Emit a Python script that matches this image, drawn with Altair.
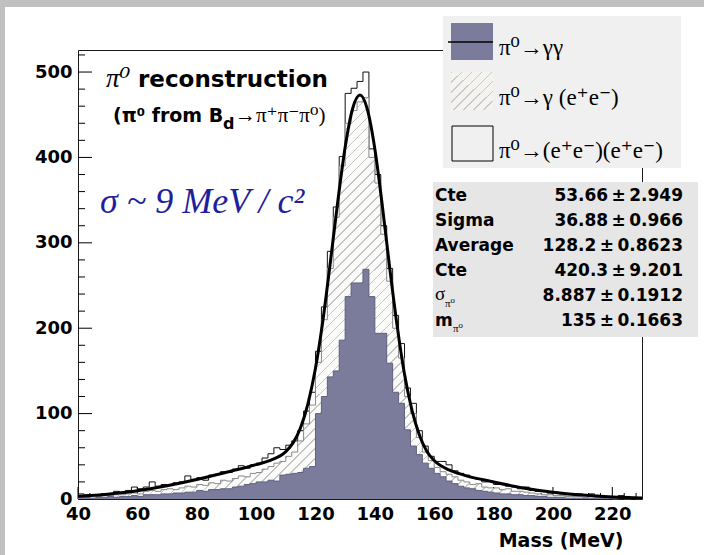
import altair as alt
import pandas as pd

# ---------------- data ----------------
BIN_W = 2
bin_starts = list(range(40, 230, BIN_W))  # 95 bins, 40..230 MeV

# stacked heights: total (outline), gamma gamma + gamma(e+e-) (hatched top), gamma gamma (blue)
total_top = [6, 5, 5, 4, 6, 5, 9, 7, 10, 14,
             12, 14, 20, 15, 17, 16, 19, 20, 27, 23,
             25, 22, 28, 29, 32, 31, 35, 39, 36, 40,
             42, 48, 53, 60, 58, 63, 68, 80, 103, 125,
             173, 225, 290, 342, 401, 475, 481, 489, 500, 410,
             380, 320, 270, 215, 182, 130, 112, 80, 62, 50,
             44, 44, 40, 33, 30, 28, 25, 23, 20, 21,
             17, 18, 15, 14, 12, 14, 10, 9, 10, 7,
             8, 6, 5, 5, 6, 4, 6, 3, 2, 3,
             2, 4, 3, 2, 1]
hatched_top = [4, 3, 4, 3, 4, 4, 5, 5, 6, 7,
               6, 9, 10, 9, 11, 12, 11, 13, 15, 14,
               17, 16, 19, 18, 22, 21, 24, 27, 26, 30,
               31, 35, 38, 42, 44, 50, 55, 68, 88, 110,
               160, 210, 270, 330, 390, 440, 455, 465, 470, 400,
               370, 310, 255, 200, 165, 120, 100, 72, 55, 45,
               37, 32, 29, 26, 22, 20, 17, 18, 14, 13,
               13, 11, 12, 9, 9, 8, 7, 6, 5, 5,
               4, 4, 3, 3, 3, 2, 3, 2, 1, 2,
               1, 2, 1, 1, 1]
gg_top = [2, 2, 1, 2, 2, 3, 2, 3, 3, 4,
          3, 5, 5, 5, 6, 6, 7, 7, 8, 8,
          10, 9, 11, 11, 12, 12, 14, 15, 17, 18,
          20, 20, 22, 21, 28, 29, 30, 31, 36, 38,
          100, 120, 143, 150, 186, 237, 253, 253, 269, 237,
          194, 194, 159, 125, 112, 81, 62, 52, 42, 36,
          30, 26, 21, 18, 15, 13, 12, 10, 9, 8,
          7, 6, 6, 5, 5, 4, 4, 3, 3, 2,
          2, 2, 1, 1, 1, 1, 1, 1, 1, 1,
          0, 1, 0, 1, 0]

# fitted curve
fit_mass = [40, 50, 60, 70, 80, 90, 100, 105, 110, 112.5, 115, 117.5, 120, 122.5, 125,
            127.5, 130, 132.5, 135, 137.5, 140, 142.5, 145, 147.5, 150, 152.5, 155,
            157.5, 160, 165, 170, 180, 190, 200, 210, 220, 230]
fit_count = [3.1, 5.7, 9.7, 15.5, 22.8, 31.4, 40.3, 45.4, 55.5, 66, 83.7, 112, 153, 209, 277,
             348, 412, 457, 473, 456, 410, 344, 271, 203, 146, 104, 75,
             56, 45, 34, 28, 20, 13, 8, 4.6, 2.4, 1.2]

x_tick_values = [40, 60, 80, 100, 120, 140, 160, 180, 200, 220]
y_tick_values = [0, 100, 200, 300, 400, 500]

legend_labels = ["π⁰→γγ", "π⁰→γ (e⁺e⁻)", "π⁰→(e⁺e⁻)(e⁺e⁻)"]
stat_names = ["Cte", "Sigma", "Average", "Cte", "σ", "m"]
stat_values = ["53.66\u2009±\u20092.949", "36.88\u2009±\u20090.966", "128.2\u2009±\u20090.8623",
               "420.3\u2009±\u20099.201", "8.887\u2009±\u20090.1912", "135\u2009±\u20090.1663"]

# ---------------- styling ----------------
W, H = 564, 449
SANS = "DejaVu Sans"
SERIF = "Liberation Serif, DejaVu Serif, serif"
BLUE = "#7b7b9c"

xsc = alt.Scale(domain=[40, 230], nice=False, zero=False)
ysc = alt.Scale(domain=[0, 525.8], nice=False, zero=False)

xaxis = alt.Axis(values=x_tick_values, ticks=False, tickSize=0, domain=False, grid=False,
                 labelFont=SANS, labelFontWeight="bold", labelFontSize=18, labelColor="black",
                 labelPadding=6, labelFlush=False, labelOverlap=False,
                 title="Mass (MeV)", titleFont=SANS, titleFontWeight="bold", titleFontSize=19,
                 titleColor="black", titleAnchor="end", titleAlign="right",
                 titleX=545, titleY=47, titleBaseline="alphabetic")
yaxis = alt.Axis(values=y_tick_values, ticks=False, tickSize=0, domain=False, grid=False,
                 labelFont=SANS, labelFontWeight="bold", labelFontSize=18, labelColor="black",
                 labelPadding=6, labelFlush=False, labelOverlap=False, title=None)


def hatch(n, ax, ay, line="#c4c4c4", bg="#fbfbfa", frac=0.16):
    stops = []
    for k in range(n):
        o0, o1, o2 = k / n, (k + frac) / n, (k + 1) / n
        stops += [alt.GradientStop(offset=o0, color=line), alt.GradientStop(offset=o1, color=line),
                  alt.GradientStop(offset=o1, color=bg), alt.GradientStop(offset=o2, color=bg)]
    return alt.LinearGradient(gradient="linear", stops=stops, x1=0, y1=0, x2=ax, y2=ay)


def step_df(counts):
    xs = bin_starts + [bin_starts[-1] + BIN_W]
    ys = counts + [counts[-1]]
    return pd.DataFrame({"mass": xs, "n": ys})


dummy = pd.DataFrame({"a": [0]})


def rect(x1, x2, y1, y2, **kw):
    return alt.Chart(dummy).mark_rect(**kw).encode(
        x=alt.value(x1), x2=alt.value(x2), y=alt.value(y1), y2=alt.value(y2))


def txt(s, x, y, size, font=SANS, weight="normal", style="normal", color="black", align="left"):
    return alt.Chart(dummy).mark_text(text=s, fontSize=size, font=font, fontWeight=weight,
                                      fontStyle=style, color=color, align=align,
                                      baseline="alphabetic").encode(x=alt.value(x), y=alt.value(y))


layers = []
# grey canvas border
layers.append(rect(-78, 626, -50, -43, fill="#c0c0c0"))
layers.append(rect(-78, -73, -50, 505, fill="#c0c0c0"))

# axis ticks (inside the frame)
y_minor = [v for v in range(20, 521, 20) if v % 100]
x_minor = [v for v in range(44, 230, 4) if v % 20]
layers.append(alt.Chart(pd.DataFrame({"v": y_tick_values})).mark_rule(color="black", strokeWidth=1)
              .encode(y=alt.Y("v:Q", scale=ysc, axis=yaxis), x=alt.value(0), x2=alt.value(14)))
layers.append(alt.Chart(pd.DataFrame({"v": y_minor})).mark_rule(color="black", strokeWidth=1)
              .encode(y=alt.Y("v:Q", scale=ysc, axis=yaxis), x=alt.value(0), x2=alt.value(7)))
layers.append(alt.Chart(pd.DataFrame({"v": x_tick_values})).mark_rule(color="black", strokeWidth=1)
              .encode(x=alt.X("v:Q", scale=xsc, axis=xaxis), y=alt.value(H), y2=alt.value(H - 12)))
layers.append(alt.Chart(pd.DataFrame({"v": x_minor})).mark_rule(color="black", strokeWidth=1)
              .encode(x=alt.X("v:Q", scale=xsc, axis=xaxis), y=alt.value(H), y2=alt.value(H - 6)))

enc = dict(x=alt.X("mass:Q", scale=xsc, axis=xaxis), y=alt.Y("n:Q", scale=ysc, axis=yaxis, stack=None))

# total outline
layers.append(alt.Chart(step_df(total_top)).mark_line(interpolate="step-after", color="#111111",
                                                       strokeWidth=1).encode(**enc))
# hatched
layers.append(alt.Chart(step_df(hatched_top)).mark_area(interpolate="step-after",
                                                         fill=hatch(97, 1.136, 0.809),
                                                         fillOpacity=1).encode(**enc))
layers.append(alt.Chart(step_df(hatched_top)).mark_line(interpolate="step-after", color="#8a8a8a",
                                                         strokeWidth=1).encode(**enc))
# blue gamma gamma
layers.append(alt.Chart(step_df(gg_top)).mark_area(interpolate="step-after", color=BLUE,
                                                    fillOpacity=1).encode(**enc))
layers.append(alt.Chart(step_df(gg_top)).mark_line(interpolate="step-after", color="#5f5f7f",
                                                    strokeWidth=1).encode(**enc))
# fit curve
layers.append(alt.Chart(pd.DataFrame({"mass": fit_mass, "n": fit_count}))
              .mark_line(interpolate="monotone", color="black", strokeWidth=3).encode(**enc))

# ---- legend box ----
layers.append(rect(365, 603, -34, 118, fill="#f0f0f0"))
layers.append(rect(373, 415, -27, 10, fill=BLUE))
layers.append(alt.Chart(dummy).mark_rule(color="black", strokeWidth=1.5)
              .encode(x=alt.value(370), x2=alt.value(415), y=alt.value(-8)))
layers.append(rect(373, 415, 22, 60, fill=hatch(8, 1.047, 0.948, line="#c8c8c8", bg="#f5f3f0")))
layers.append(rect(374, 415, 76, 111, fill="#f0f0f0", stroke="black", strokeWidth=1))
for i, lab in enumerate(legend_labels):
    layers.append(txt(lab, 421, 5 + 50 * i + (3 if i == 2 else 0), 23, font=SERIF))

# ---- statistics box ----
layers.append(rect(355, 620, 132, 287, fill="#e6e6e6"))
for i, (nm, val) in enumerate(zip(stat_names, stat_values)):
    y = 151 + 25 * i
    if nm == "σ":
        layers.append(txt(nm, 357, y - 1, 19, font=SERIF))
        layers.append(txt("π⁰", 367, y + 6, 11, font=SERIF))
    elif nm == "m":
        layers.append(txt(nm, 357, y, 17, weight="bold"))
        layers.append(txt("π⁰", 375, y + 6, 11, font=SERIF))
    else:
        layers.append(txt(nm, 357, y, 17, weight="bold"))
    layers.append(txt(val, 605, y, 17, weight="bold", align="right"))

# ---- annotations ----
layers.append(txt("π⁰", 28, 37, 27, font=SERIF, style="italic"))
layers.append(txt("reconstruction", 60, 37, 23, weight="bold"))
layers.append(txt("(π⁰ from B", 35, 72, 19, weight="bold"))
layers.append(txt("d", 145, 79, 16, weight="bold"))
layers.append(txt("→π⁺π⁻π⁰)", 157, 72, 21, font=SERIF))
layers.append(txt("σ ~ 9 MeV / c²", 22, 163, 36, font=SERIF, style="italic", color="#1f1f9e"))

chart = alt.layer(*layers).properties(
    width=W, height=H, background="white",
    padding={"left": 78, "top": 50, "right": 62, "bottom": 56},
    autosize=alt.AutoSizeParams(type="none"),
).configure_view(stroke="#1a1a1a", strokeWidth=1)

chart.save("out.html", embed_options={"renderer": "svg", "actions": False})
